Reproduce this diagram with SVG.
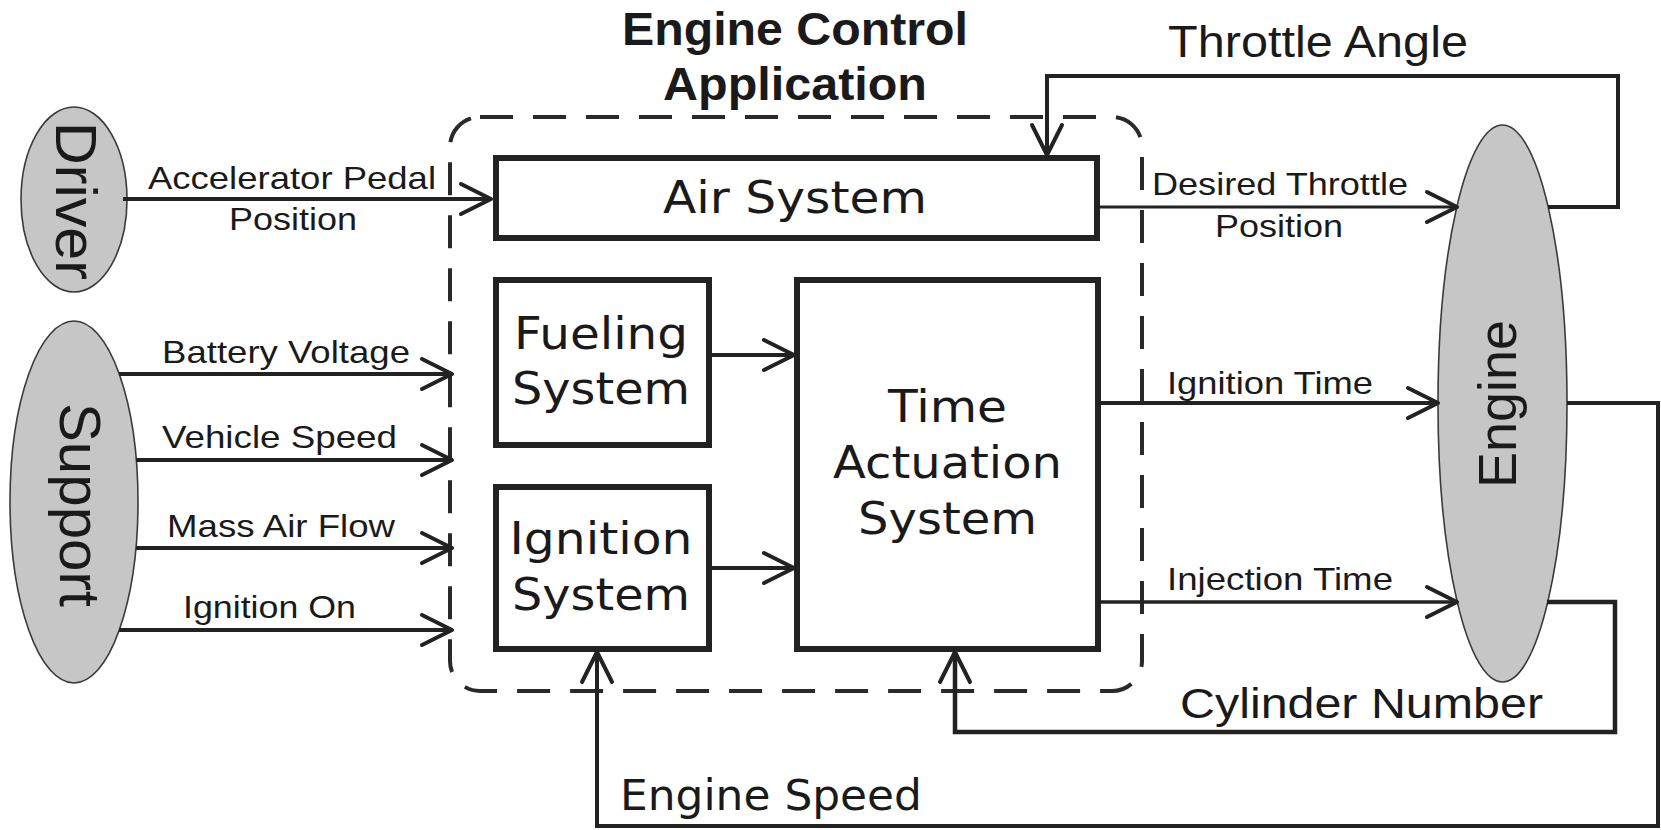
<svg xmlns="http://www.w3.org/2000/svg" width="1661" height="830" viewBox="0 0 1661 830">
<style>
.bg{fill:#fff}
.box{fill:#fff;stroke:#222;stroke-width:6}
.ell{fill:#c6c6c6;stroke:#3a3a3a;stroke-width:1.6}
.cont{fill:none;stroke:#2a2a2a;stroke-width:4;stroke-dasharray:33 20}
.ln{fill:none;stroke:#222;stroke-width:4;marker-end:url(#arr)}
.lbl{font-family:"Liberation Sans",Arial,sans-serif;font-size:32px;fill:#1a1a1a;text-anchor:middle}
.big{font-family:"Liberation Sans",Arial,sans-serif;font-size:44px;fill:#1a1a1a;text-anchor:middle}
.title{font-family:"Liberation Sans",Arial,sans-serif;font-size:46px;font-weight:bold;fill:#1a1a1a;text-anchor:middle}
.bt{font-family:"DejaVu Sans",Verdana,sans-serif;font-size:44px;fill:#1a1a1a;text-anchor:middle}
.es{font-family:"DejaVu Sans",Verdana,sans-serif;font-size:42px;fill:#1a1a1a;text-anchor:middle}
.rot{font-family:"Liberation Sans",Arial,sans-serif;font-size:58px;fill:#1a1a1a;text-anchor:middle}
</style>
<defs>
<marker id="arr" viewBox="0 0 34 34" refX="31" refY="17" markerWidth="34" markerHeight="34" markerUnits="userSpaceOnUse" orient="auto" overflow="visible">
<path d="M1,2 L31,17 L1,32" fill="none" stroke="#222" stroke-width="4" stroke-linejoin="round" stroke-linecap="round"/>
</marker>
</defs>
<rect class="bg" x="0" y="0" width="1661" height="830"/>

<g id="app">
<rect class="cont" x="450" y="117" width="692" height="574" rx="30" ry="30"/>
<text class="title" x="795" y="45" textLength="346" lengthAdjust="spacingAndGlyphs">Engine Control</text>
<text class="title" x="795" y="100" textLength="264" lengthAdjust="spacingAndGlyphs">Application</text>
</g>

<g id="driver">
<ellipse class="ell" cx="74" cy="199.5" rx="53" ry="92.5"/>
<text class="rot" transform="translate(56,201) rotate(90)" textLength="158" lengthAdjust="spacingAndGlyphs">Driver</text>
</g>

<g id="support">
<ellipse class="ell" cx="74" cy="502" rx="64" ry="181"/>
<text class="rot" transform="translate(60,505) rotate(90)" textLength="204" lengthAdjust="spacingAndGlyphs">Support</text>
</g>

<g id="engine">
<ellipse class="ell" cx="1502.5" cy="403.5" rx="64.5" ry="278.5"/>
<text class="rot" style="font-size:54px" transform="translate(1516,404) rotate(-90)" textLength="168" lengthAdjust="spacingAndGlyphs">Engine</text>
</g>

<g id="air">
<rect class="box" x="496" y="158" width="601" height="80"/>
<text class="bt" x="795" y="213" textLength="264" lengthAdjust="spacingAndGlyphs">Air System</text>
</g>

<g id="fueling">
<rect class="box" x="496" y="280" width="213" height="165"/>
<text class="bt" x="601" y="349" textLength="174" lengthAdjust="spacingAndGlyphs">Fueling</text>
<text class="bt" x="601" y="404" textLength="178" lengthAdjust="spacingAndGlyphs">System</text>
</g>

<g id="ignition">
<rect class="box" x="496" y="487" width="213" height="162"/>
<text class="bt" x="601" y="554" textLength="183" lengthAdjust="spacingAndGlyphs">Ignition</text>
<text class="bt" x="601" y="610" textLength="178" lengthAdjust="spacingAndGlyphs">System</text>
</g>

<g id="time">
<rect class="box" x="797" y="280" width="301" height="369"/>
<text class="bt" x="947.5" y="422" textLength="119" lengthAdjust="spacingAndGlyphs">Time</text>
<text class="bt" x="947.5" y="478" textLength="229" lengthAdjust="spacingAndGlyphs">Actuation</text>
<text class="bt" x="947.5" y="534" textLength="179" lengthAdjust="spacingAndGlyphs">System</text>
</g>

<g id="connectors">
<path class="ln" d="M123,199 L491,199"/>
<path class="ln" d="M119,374 L452,374"/>
<path class="ln" d="M136,460 L452,460"/>
<path class="ln" d="M136,548 L452,548"/>
<path class="ln" d="M119,630 L452,630"/>
<path class="ln" d="M709,355 L794,355"/>
<path class="ln" d="M709,568 L794,568"/>
<path class="ln" style="stroke-width:3" d="M1097,207 L1457,207"/>
<path class="ln" d="M1098,403 L1438,403"/>
<path class="ln" style="stroke-width:3.5" d="M1098,602 L1457,602"/>
<path class="ln" d="M1548,207 L1618,207 L1618,76 L1047,76 L1047,155"/>
<path class="ln" d="M1567,403 L1658,403 L1658,826 L597,826 L597,652"/>
<path class="ln" style="stroke-width:4.5" d="M1547,602 L1615,602 L1615,732 L955,732 L955,652"/>

<text class="lbl" x="292" y="189" textLength="288" lengthAdjust="spacingAndGlyphs">Accelerator Pedal</text>
<text class="lbl" x="293" y="230" textLength="128" lengthAdjust="spacingAndGlyphs">Position</text>
<text class="lbl" x="286" y="363" textLength="248" lengthAdjust="spacingAndGlyphs">Battery Voltage</text>
<text class="lbl" x="279.5" y="448" textLength="235" lengthAdjust="spacingAndGlyphs">Vehicle Speed</text>
<text class="lbl" x="281" y="537" textLength="228" lengthAdjust="spacingAndGlyphs">Mass Air Flow</text>
<text class="lbl" x="269.5" y="618" textLength="173" lengthAdjust="spacingAndGlyphs">Ignition On</text>
<text class="lbl" x="1280" y="195" textLength="256" lengthAdjust="spacingAndGlyphs">Desired Throttle</text>
<text class="lbl" x="1279" y="237" textLength="128" lengthAdjust="spacingAndGlyphs">Position</text>
<text class="lbl" x="1270" y="394" textLength="206" lengthAdjust="spacingAndGlyphs">Ignition Time</text>
<text class="lbl" x="1280" y="590" textLength="226" lengthAdjust="spacingAndGlyphs">Injection Time</text>
<text class="big" x="1318" y="57" textLength="300" lengthAdjust="spacingAndGlyphs">Throttle Angle</text>
<text class="big" style="font-size:42px" x="1361.5" y="718" textLength="363" lengthAdjust="spacingAndGlyphs">Cylinder Number</text>
<text class="es" x="771" y="810" textLength="302" lengthAdjust="spacingAndGlyphs">Engine Speed</text>
</g>
</svg>
